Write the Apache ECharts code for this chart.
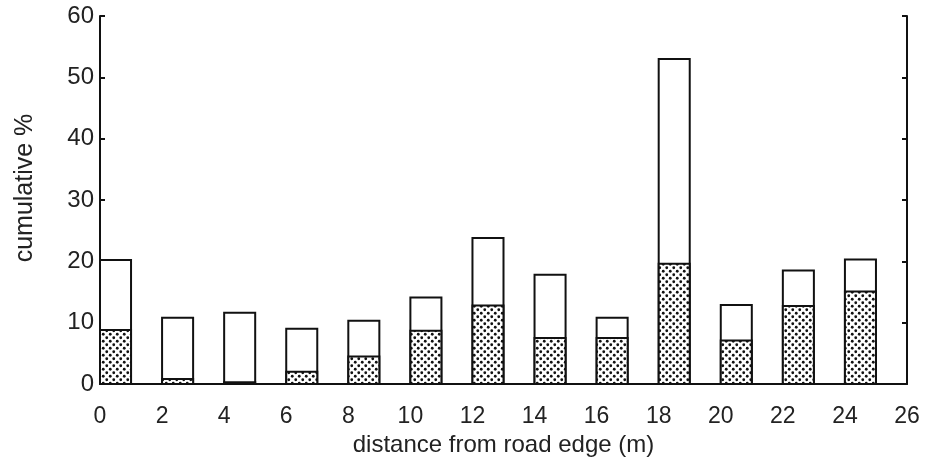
<!DOCTYPE html>
<html>
<head>
<meta charset="utf-8">
<script src="https://cdn.jsdelivr.net/npm/echarts@6/dist/echarts.min.js"></script>
<style>
  html, body { margin: 0; padding: 0; background: #fff; }
  #chart { width: 928px; height: 463px; }
</style>
</head>
<body>
<div id="chart"></div>
<script>
// Distance classes (m): each bar spans [start, start + 1]
const distanceStart = [0, 2, 4, 6, 8, 10, 12, 14, 16, 18, 20, 22, 24];
// Total cumulative % (open bar outline)
const totalPct = [20.2, 10.8, 11.6, 9.0, 10.3, 14.1, 23.8, 17.8, 10.8, 53.0, 12.9, 18.5, 20.3];
// Stippled (lower) portion
const stippledPct = [8.8, 0.8, 0.3, 2.0, 4.5, 8.7, 12.8, 7.5, 7.5, 19.6, 7.1, 12.7, 15.1];
const xTicks = [0, 2, 4, 6, 8, 10, 12, 14, 16, 18, 20, 22, 24, 26];
const yTicks = [0, 10, 20, 30, 40, 50, 60];

// Dot stipple pattern
const tile = document.createElement('canvas');
tile.width = 7; tile.height = 7;
const tc = tile.getContext('2d');
tc.fillStyle = '#fff';
tc.fillRect(0, 0, 7, 7);
tc.fillStyle = '#111';
[[1.75, 1.75], [5.25, 5.25]].forEach(([x, y]) => {
  tc.beginPath(); tc.arc(x, y, 1.4, 0, Math.PI * 2); tc.fill();
});

function barRenderer(fill) {
  return function (params, api) {
    const x0 = api.value(0);
    const v = api.value(1);
    const p0 = api.coord([x0, 0]);
    const p1 = api.coord([x0 + 1, v]);
    return {
      type: 'rect',
      shape: { x: p0[0], y: p1[1], width: p1[0] - p0[0], height: p0[1] - p1[1] },
      style: { fill: fill, stroke: '#111', lineWidth: 2 }
    };
  };
}

const font = 'Liberation Sans, Arial, Helvetica, sans-serif';
const chart = echarts.init(document.getElementById('chart'));
chart.setOption({
  backgroundColor: '#fff',
  animation: false,
  grid: { left: 100, right: 21, top: 16, bottom: 79, containLabel: false },
  xAxis: {
    type: 'value', min: 0, max: 26, interval: 2,
    name: 'distance from road edge (m)', nameLocation: 'middle', nameGap: 38,
    nameTextStyle: { fontFamily: font, fontSize: 24, color: '#222' },
    axisLine: { show: true, lineStyle: { color: '#111', width: 2 } },
    axisTick: { show: false },
    axisLabel: { margin: 21, fontFamily: font, fontSize: 23, color: '#222',
      customValues: xTicks },
    splitLine: { show: false }
  },
  yAxis: [{
    type: 'value', min: 0, max: 60, interval: 10, position: 'left',
    name: 'cumulative %', nameLocation: 'middle', nameGap: 62,
    nameTextStyle: { fontFamily: font, fontSize: 25, color: '#222', padding: [0, 0, 0, 24] },
    axisLine: { show: true, lineStyle: { color: '#111', width: 2 } },
    axisTick: { show: true, inside: true, length: 5, lineStyle: { color: '#111', width: 2 } },
    axisLabel: { margin: 6, fontFamily: font, fontSize: 24, color: '#222',
      customValues: yTicks },
    splitLine: { show: false }
  }, {
    type: 'value', min: 0, max: 60, interval: 10, position: 'right',
    axisLine: { show: true, lineStyle: { color: '#111', width: 2 } },
    axisTick: { show: true, inside: true, length: 5, lineStyle: { color: '#111', width: 2 } },
    axisLabel: { show: false },
    splitLine: { show: false }
  }],
  series: [{
    type: 'custom', name: 'total', renderItem: barRenderer('#fff'),
    encode: { x: 0, y: 1 },
    data: distanceStart.map((d, i) => [d, totalPct[i]]), z: 2
  }, {
    type: 'custom', name: 'stippled', renderItem: barRenderer({ image: tile, repeat: 'repeat' }),
    encode: { x: 0, y: 1 },
    data: distanceStart.map((d, i) => [d, stippledPct[i]]), z: 3
  }]
});
</script>
</body>
</html>
